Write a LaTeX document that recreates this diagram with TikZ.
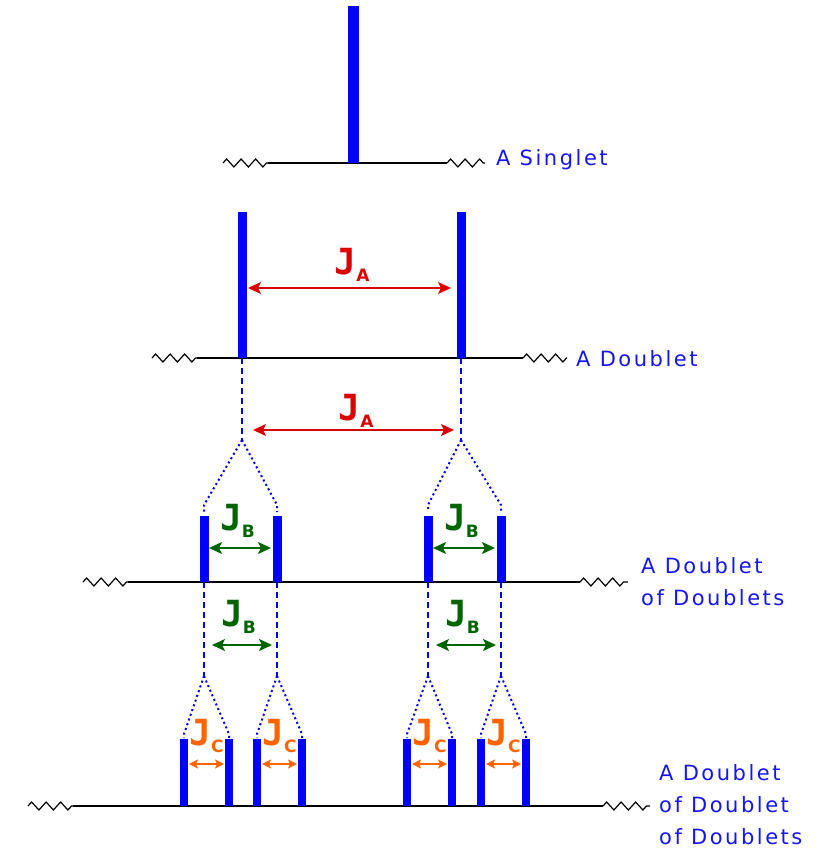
\documentclass[tikz,border=0pt]{standalone}
\usepackage{fontspec}
\setmainfont{DejaVu Sans}
\newfontfamily\levelfont[LetterSpace=12]{DejaVu Sans}
\newfontfamily\jfont{DejaVu Sans Mono Bold}
\newfontfamily\subfont{DejaVu Sans Bold}
\usetikzlibrary{arrows.meta,calc,decorations.pathmorphing}
\definecolor{peak_blue}{RGB}{0,0,255}
\definecolor{text_blue}{RGB}{20,20,255}
\definecolor{ja_red}{RGB}{221,0,0}
\definecolor{jb_green}{RGB}{0,100,0}
\definecolor{jc_orange}{RGB}{255,100,0}

% J with a subscript letter
\newcommand\coupling[1]{{\jfont\fontsize{36}{36}\selectfont J}\raisebox{-7pt}{\subfont\fontsize{17}{17}\selectfont #1}}
% axis with broken ends: y, x0, x1, x2, x3
\newcommand\spectrumline[5]{%
  \draw[squig] (#2,#1) -- (#3,#1);
  \draw[axisline] (#3,#1) -- (#4,#1);
  \draw[squig] (#4,#1) -- (#5,#1);}

\begin{document}
\begin{tikzpicture}[x=1pt, y=-1pt,
    peak/.style={draw=peak_blue, line width=9pt},
    axisline/.style={draw=black, line width=1.8pt},
    squig/.style={draw=black, line width=1.2pt, decorate,
      decoration={zigzag, segment length=14.5pt, amplitude=4pt}},
    split/.style={draw=peak_blue, line width=1.3pt, dash pattern=on 6pt off 4pt},
    fan/.style={draw=peak_blue, line width=2pt, dash pattern=on 2pt off 3pt},
    level/.style={text=text_blue, anchor=west, align=left, inner sep=0pt,
      font={\levelfont\fontsize{21}{32}\selectfont}},
    jtext/.style={inner sep=0pt},
    jarrow/.style={line width=1.6pt,
      arrows={Stealth[length=13pt,width=12pt,inset=3pt]-Stealth[length=13pt,width=12pt,inset=3pt]}},
    jcarrow/.style={line width=1.3pt,
      arrows={Stealth[length=9pt,width=9pt,inset=2pt]-Stealth[length=9pt,width=9pt,inset=2pt]}}]
  \useasboundingbox (0,0) rectangle (833,853);

  % singlet
  \spectrumline{163}{223}{268}{447}{485}
  \coordinate (s) at (353,163);
  \draw[peak, line width=11pt] (s) -- ++(0,-157);
  \node[level] (singlet) at (496,160) {A Singlet};

  % doublet
  \spectrumline{358}{152}{197}{523}{567}
  \coordinate (a1) at (242,358);
  \coordinate (a2) at (461,358);
  \coordinate (a1x) at (242,440);
  \coordinate (a2x) at (461,440);
  \foreach \p in {a1,a2} {
    \draw[peak] (\p) -- ++(0,-146);
    \draw[split] (\p) -- (\p x);
  }
  \draw[jarrow, ja_red] ($(a1)+(6,-70)$) -- ($(a2)+(-10,-70)$);
  \node[jtext, text=ja_red] (ja1) at (352,265) {\coupling{A}};
  \draw[jarrow, ja_red] ($(a1x)+(11,-10)$) -- ($(a2x)+(-7,-10)$);
  \node[jtext, text=ja_red] (ja2) at (356,411) {\coupling{A}};
  \node[level] (doublet) at (576,359) {A Doublet};

  % doublet of doublets
  \spectrumline{582}{83}{128}{580}{628}
  \coordinate (b1) at (204,582);
  \coordinate (b2) at (277,582);
  \coordinate (b3) at (428,582);
  \coordinate (b4) at (501,582);
  \foreach \p/\q in {b1/a1x,b2/a1x,b3/a2x,b4/a2x} {
    \coordinate (\p x) at ($(\p)+(0,94)$);
    \draw[fan] (\q) -- ($(\p)+(0,-77)$) -- ($(\p)+(0,-70)$);
    \draw[peak] (\p) -- ++(0,-66);
    \draw[split] (\p) -- (\p x);
  }
  \foreach \l/\r in {b1/b2,b3/b4} {
    \draw[jarrow, jb_green] ($(\l)+(5,-34)$) -- ($(\r)+(-6,-34)$);
    \node[jtext, text=jb_green] at ($(\l)!0.5!(\r)+(-3,-61)$) {\coupling{B}};
    \draw[jarrow, jb_green] ($(\l x)+(8,-31)$) -- ($(\r x)+(-5,-31)$);
    \node[jtext, text=jb_green] at ($(\l x)!0.5!(\r x)+(-2,-59)$) {\coupling{B}};
  }
  \node[level] (dd) at (641,582) {A Doublet\\of Doublets};

  % doublet of doublet of doublets
  \spectrumline{806}{28}{73}{603}{650}
  \foreach \n/\x in {1/184,2/229,3/257,4/302,5/407,6/452,7/481,8/526}
    \coordinate (c\n) at (\x,806);
  \foreach \l/\r/\q in {c1/c2/b1x,c3/c4/b2x,c5/c6/b3x,c7/c8/b4x} {
    \foreach \p in {\l,\r} {
      \draw[fan] (\q) -- ($(\p)+(0,-72)$) -- ($(\p)+(0,-68)$);
      \draw[peak, line width=8pt] (\p) -- ++(0,-67);
    }
    \draw[jcarrow, jc_orange] ($(\l)+(5,-42)$) -- ($(\r)+(-5,-42)$);
    \node[jtext, text=jc_orange] at ($(\l)!0.5!(\r)+(0,-70)$) {\coupling{C}};
  }
  \node[level] (ddd) at (659,805) {A Doublet\\of Doublet\\of Doublets};
\end{tikzpicture}
\end{document}
